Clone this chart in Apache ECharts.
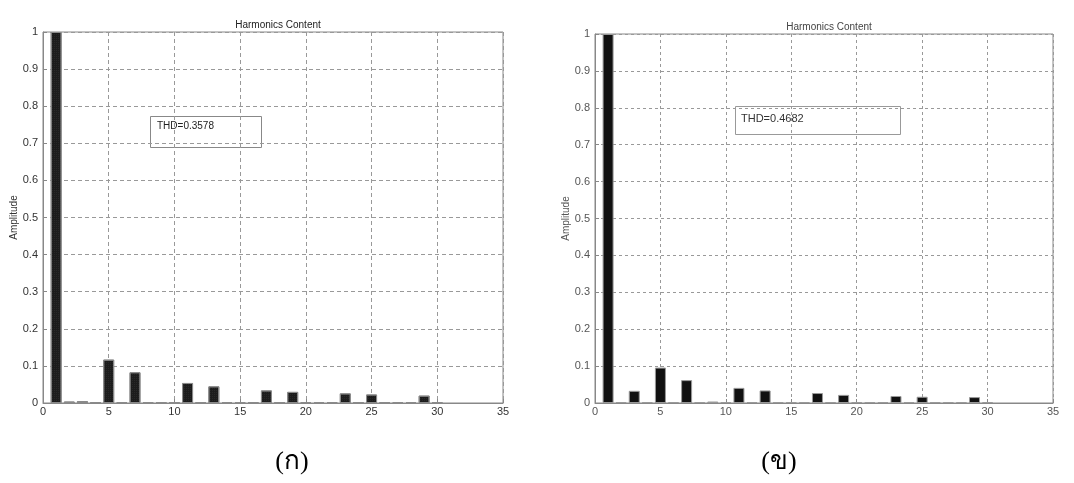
<!DOCTYPE html>
<html>
<head>
<meta charset="utf-8">
<script src="https://cdn.jsdelivr.net/npm/echarts@6/dist/echarts.min.js"></script>
<style>
  html, body { margin: 0; padding: 0; background: #fff; }
  #chart { width: 1074px; height: 483px; }
</style>
</head>
<body>
<div id="chart"></div>
<script>
// Harmonic orders shown on each spectrum
const harmonics = [1, 2, 3, 4, 5, 6, 7, 8, 9, 10, 11, 12, 13, 14, 15,
                   16, 17, 18, 19, 20, 21, 22, 23, 24, 25, 26, 27, 28, 29, 30];
// Normalised amplitude per harmonic, case (ก)
const amplitudeA = [1.0, 0.004, 0.005, 0, 0.117, 0, 0.083, 0, 0, 0, 0.054, 0, 0.045, 0, 0,
                    0, 0.034, 0, 0.030, 0, 0, 0, 0.026, 0, 0.023, 0, 0, 0, 0.020, 0];
// Normalised amplitude per harmonic, case (ข)
const amplitudeB = [1.0, 0, 0.033, 0, 0.096, 0, 0.062, 0, 0.004, 0, 0.041, 0, 0.034, 0, 0.001,
                    0, 0.027, 0, 0.022, 0, 0, 0, 0.019, 0, 0.017, 0, 0, 0, 0.016, 0];
const thdA = 'THD=0.3578';
const thdB = 'THD=0.4682';
const titleText = 'Harmonics Content';
const yName = 'Amplitude';
const captionA = '(ก)';
const captionB = '(ข)';

const font = '"Liberation Sans", Arial, sans-serif';
const chart = echarts.init(document.getElementById('chart'), null, { renderer: 'canvas' });

function pairs(vals) { return harmonics.map((h, i) => [h, vals[i]]); }

const grids = [
  { left: 43, top: 32, width: 460, height: 371 },
  { left: 595, top: 34, width: 458, height: 369 }
];

function xAxis(idx, dash, color) {
  return {
    type: 'value', gridIndex: idx, min: 0, max: 35, interval: 5,
    axisLine: { show: true, onZero: false, lineStyle: { color: '#888', width: 1 } },
    axisTick: { show: true, inside: true, length: 4, lineStyle: { color: '#888' } },
    axisLabel: { color: color, fontFamily: font, fontSize: 11, margin: 3 },
    splitLine: { show: true, lineStyle: { color: '#999', type: dash, width: 1 } }
  };
}
function yAxis(idx, dash, color, gap) {
  return {
    type: 'value', gridIndex: idx, min: 0, max: 1, interval: 0.1,
    name: yName, nameLocation: 'middle', nameGap: gap,
    nameTextStyle: { color: color, fontFamily: font, fontSize: 10 },
    axisLine: { show: true, lineStyle: { color: '#888', width: 1 } },
    axisTick: { show: true, inside: true, length: 4, lineStyle: { color: '#888' } },
    axisLabel: { color: color, fontFamily: font, fontSize: 11, margin: 5,
                 formatter: v => String(Math.round(v * 10) / 10) },
    splitLine: { show: true, lineStyle: { color: '#999', type: dash, width: 1 } }
  };
}

chart.setOption({
  animation: false,
  backgroundColor: '#fff',
  title: [
    { text: titleText, left: 273, top: 15, textAlign: 'center',
      textStyle: { fontFamily: font, fontSize: 10, fontWeight: 'normal', color: '#222' } },
    { text: titleText, left: 824, top: 17, textAlign: 'center',
      textStyle: { fontFamily: font, fontSize: 10, fontWeight: 'normal', color: '#444' } }
  ],
  grid: grids.map(g => Object.assign({ show: true, borderColor: '#888', borderWidth: 1, backgroundColor: 'transparent' }, g)),
  xAxis: [xAxis(0, [4, 3], '#333'), xAxis(1, [3, 3], '#555')],
  yAxis: [yAxis(0, [4, 3], '#333', 24), yAxis(1, [3, 3], '#555', 22)],
  series: [
    { type: 'bar', xAxisIndex: 0, yAxisIndex: 0, data: pairs(amplitudeA), barWidth: 11, barMinHeight: 1,
      itemStyle: { color: '#1c1c1c', borderColor: '#8a8a8a', borderWidth: 1,
        decal: { symbol: 'rect', symbolSize: 0.5, dashArrayX: [1, 1], dashArrayY: [1, 1], color: 'rgba(120,120,120,0.55)' } } },
    { type: 'bar', xAxisIndex: 1, yAxisIndex: 1, data: pairs(amplitudeB), barWidth: 11, barMinHeight: 1,
      itemStyle: { color: '#111', borderColor: '#999', borderWidth: 1 } }
  ],
  graphic: [
    { type: 'rect', shape: { x: 150.5, y: 116.5, width: 111, height: 31 },
      style: { fill: '#fff', stroke: '#888', lineWidth: 1 } },
    { type: 'text', x: 157, y: 121, style: { text: thdA, font: '10px ' + font, fill: '#222' } },
    { type: 'rect', shape: { x: 735.5, y: 106.5, width: 165, height: 28 },
      style: { fill: '#fff', stroke: '#999', lineWidth: 1 } },
    { type: 'text', x: 741, y: 113, style: { text: thdB, font: '11px ' + font, fill: '#333' } },
    { type: 'text', x: 292, y: 462, style: { text: captionA, font: '26px serif', fill: '#000', align: 'center', verticalAlign: 'middle' } },
    { type: 'text', x: 779, y: 462, style: { text: captionB, font: '26px serif', fill: '#000', align: 'center', verticalAlign: 'middle' } }
  ]
});
</script>
</body>
</html>
